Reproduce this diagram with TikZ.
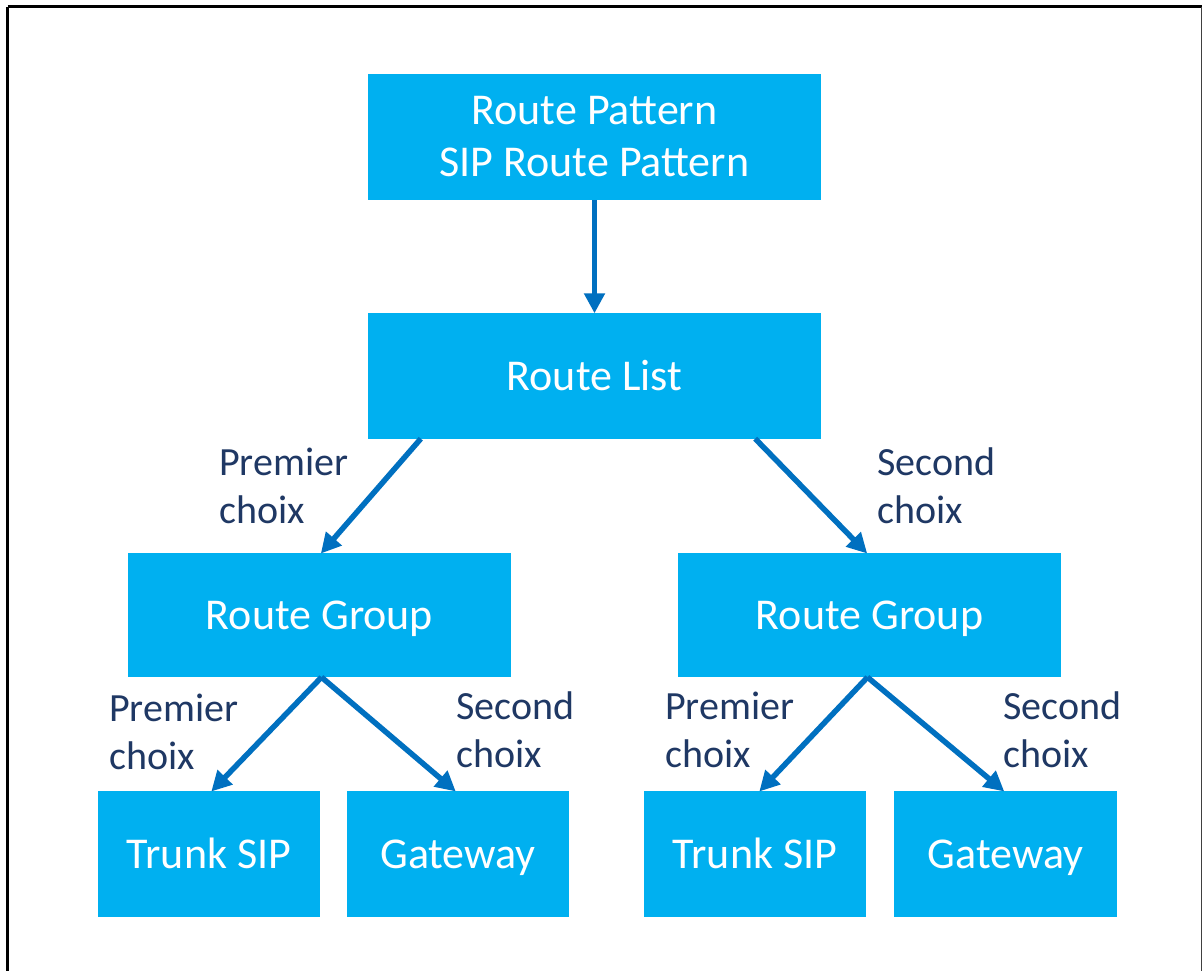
\documentclass[tikz,border=0pt]{standalone}
\usepackage{fontspec}
\setmainfont{Carlito}
\usetikzlibrary{arrows.meta,calc}
\definecolor{boxblue}{HTML}{00B0F0}
\definecolor{arrowblue}{HTML}{0070C0}
\definecolor{labelnavy}{HTML}{1F3864}
% fixed strut so every one-line box puts its baseline at the same place
\newcommand{\boxstrut}{\rule[-10pt]{0pt}{49pt}}
\tikzset{
  box/.style={fill=boxblue, draw=none, text=white, align=center,
    font=\fontsize{44}{54}\selectfont, inner sep=0pt},
  choice/.style={text=labelnavy, align=left, anchor=west, inner sep=0pt,
    font=\fontsize{40}{48}\selectfont},
  link/.style={draw=arrowblue, line width=5.5pt,
    -{Triangle[length=20pt,width=20pt]}, shorten >=-1pt},
}
\begin{document}
\begin{tikzpicture}[x=1pt,y=-1pt]
  \useasboundingbox (0,0) rectangle (1203,970);
  \fill[white] (0,0) rectangle (1203,970);
  \begin{scope}
    \clip (0,0) rectangle (1203,970);
    \draw[line width=3pt] (7.5,6.5) -- (1201.5,6.5);
    \draw[line width=3pt] (7.5,6.5) -- (7.5,975);
    \draw[line width=1.5pt, black!75] (1201.5,6.5) -- (1201.5,975);
  \end{scope}

  % boxes
  \node[box, minimum width=453pt, minimum height=126pt] (rp) at (594.5,137)
    {Route Pattern\\[-2pt]SIP Route Pattern};
  \node[box, minimum width=453pt, minimum height=126pt] (rl) at (594.5,375.5) {\boxstrut Route List};
  \node[box, minimum width=383pt, minimum height=124pt] (rgL) at (319.5,615) {\boxstrut Route Group};
  \node[box, minimum width=383pt, minimum height=124pt] (rgR) at (869.5,615) {\boxstrut Route Group};
  \node[box, minimum width=222pt, minimum height=126pt] (tsL) at (209,854) {\boxstrut Trunk SIP};
  \node[box, minimum width=222pt, minimum height=126pt] (gwL) at (458,854) {\boxstrut Gateway};
  \node[box, minimum width=222pt, minimum height=126pt] (tsR) at (755,854) {\boxstrut Trunk SIP};
  \node[box, minimum width=223pt, minimum height=126pt] (gwR) at (1005.5,854) {\boxstrut Gateway};

  % connectors
  \draw[link] (rp.south) -- (rl.north);
  \draw[link] ($(rl.south west)+(53,0)$) -- ($(rgL.north)+(2,0)$);
  \draw[link] ($(rl.south east)+(-66,0)$) -- ($(rgR.north)+(-3,0)$);
  \draw[link] ($(rgL.south)+(2,0)$) -- ($(tsL.north)+(3,0)$);
  \draw[link] ($(rgL.south)+(2,0)$) -- ($(gwL.north)+(-3,0)$);
  \draw[link] ($(rgR.south)+(-2,0)$) -- ($(tsR.north)+(5,0)$);
  \draw[link] ($(rgR.south)+(-2,0)$) -- ($(gwR.north)+(-2,0)$);

  % labels
  \node[choice] (l1) at (219,486) {Premier\\choix};
  \node[choice] (l2) at (877,486) {Second\\choix};
  \node[choice] (l3) at (109,732) {Premier\\choix};
  \node[choice] (l4) at (456,730) {Second\\choix};
  \node[choice] (l5) at (665,730) {Premier\\choix};
  \node[choice] (l6) at (1003,730) {Second\\choix};
\end{tikzpicture}
\end{document}
